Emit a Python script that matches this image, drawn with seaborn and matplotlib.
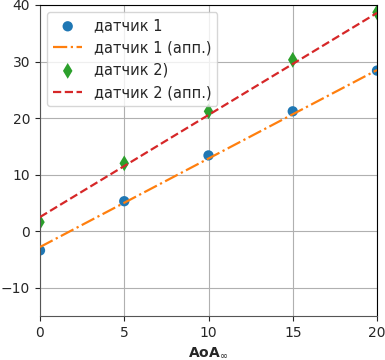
import numpy as np
import pandas as pd
import matplotlib
matplotlib.use("Agg")
import matplotlib.pyplot as plt
import seaborn as sns

# measured points
aoa = [0, 5, 10, 15, 20]
sensor1 = [-3.4, 5.3, 13.4, 21.2, 28.4]
sensor2 = [1.6, 12.0, 21.2, 30.3, 38.7]

# approximation lines (endpoints)
aoa_fit = [0, 20]
sensor1_fit = [-2.8, 28.5]
sensor2_fit = [2.5, 38.6]

sns.set_style("ticks")
plt.rcParams['font.family'] = ['DejaVu Sans']

fig = plt.figure(figsize=(3.85, 3.6), dpi=100)
ax = fig.add_axes([40 / 385, 44 / 360, 337 / 385, 311 / 360])

pal = sns.color_palette("tab10")

sns.scatterplot(x=aoa, y=sensor1, ax=ax, color=pal[0], marker="o", s=55,
                edgecolor="none", label="датчик 1", zorder=2)
sns.lineplot(x=aoa_fit, y=sensor1_fit, ax=ax, color=pal[1], linestyle="-.",
             linewidth=1.6, label="датчик 1 (апп.)", zorder=3)
sns.scatterplot(x=aoa, y=sensor2, ax=ax, color=pal[2], marker="d", s=65,
                edgecolor="none", label="датчик 2)", zorder=2)
sns.lineplot(x=aoa_fit, y=sensor2_fit, ax=ax, color=pal[3], linestyle="--",
             linewidth=1.6, label="датчик 2 (апп.)", zorder=3)

ax.set_xlim(0, 20)
ax.set_ylim(-15, 40)
ax.set_xticks([0, 5, 10, 15, 20])
ax.set_yticks([-10, 0, 10, 20, 30, 40])
ax.grid(True, color="#b0b0b0", linewidth=0.8)
ax.tick_params(labelsize=10)
ax.set_xlabel(r"AoA$_\infty$", fontweight="bold", fontsize=10)
for side in ["left", "bottom"]:
    ax.spines[side].set_color("#555555")
for side in ["right", "top"]:
    ax.spines[side].set_color("black")
    ax.spines[side].set_visible(True)

ax.legend(loc="upper left", fontsize=10.5, frameon=True)

fig.savefig("out.png", dpi=100)
